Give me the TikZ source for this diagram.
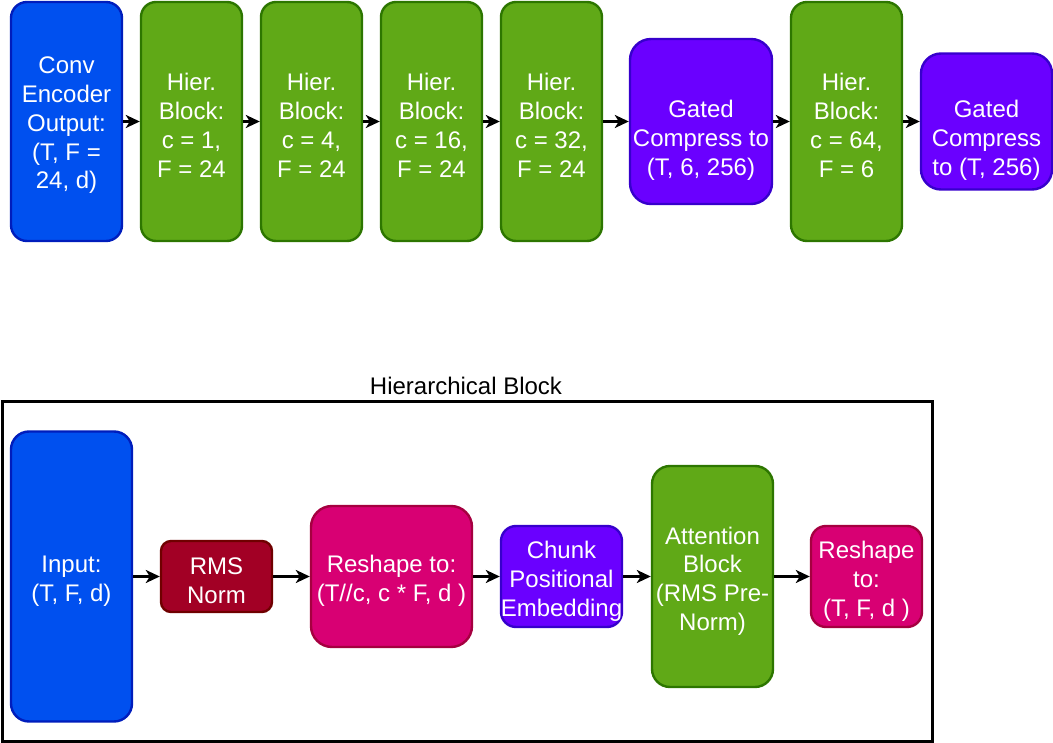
\documentclass[tikz,border=0pt]{standalone}
\usepackage{fontspec}
\setmainfont{Liberation Sans}
\usetikzlibrary{arrows.meta}
\definecolor{bluef}{HTML}{0050EF}\definecolor{blued}{HTML}{001DBC}
\definecolor{greenf}{HTML}{60A917}\definecolor{greend}{HTML}{2D7600}
\definecolor{purpf}{HTML}{6A00FF}\definecolor{purpd}{HTML}{3700CC}
\definecolor{redf}{HTML}{A20025}\definecolor{redd}{HTML}{6F0000}
\definecolor{magf}{HTML}{D80073}\definecolor{magd}{HTML}{A50040}
\begin{document}
\begin{tikzpicture}[x=1pt,y=-1pt,
  blk/.style={draw, inner sep=0pt, line width=2.4pt},
  bluebox/.style={blk, fill=bluef, draw=blued},
  greenbox/.style={blk, fill=greenf, draw=greend},
  purpbox/.style={blk, fill=purpf, draw=purpd},
  redbox/.style={blk, fill=redf, draw=redd},
  magbox/.style={blk, fill=magf, draw=magd},
  txt/.style={text=white, align=center, inner sep=0pt, font=\fontsize{24}{28.8}\selectfont},
  arr/.style={line width=2.8pt, -{Stealth[length=14pt,width=13pt,inset=4pt]}},
]
\useasboundingbox (0,0) rectangle (1053,743);
% top row
\node[bluebox, minimum width=111pt, minimum height=239pt, rounded corners=16pt] (conv) at (66.5,121.5) {};
\node[txt] at ([yshift=-4pt]conv.center) {Conv\\Encoder\\Output:\\(T, F =\\24, d)};
\node[greenbox, minimum width=101pt, minimum height=239pt, rounded corners=15pt] (h1) at (191.5,121.5) {};
\node[txt] at ([yshift=-4pt]h1.center) {Hier.\\Block:\\c = 1,\\F = 24};
\node[greenbox, minimum width=101pt, minimum height=239pt, rounded corners=15pt] (h2) at (311.5,121.5) {};
\node[txt] at ([yshift=-4pt]h2.center) {Hier.\\Block:\\c = 4,\\F = 24};
\node[greenbox, minimum width=101pt, minimum height=239pt, rounded corners=15pt] (h3) at (431.5,121.5) {};
\node[txt] at ([yshift=-4pt]h3.center) {Hier.\\Block:\\c = 16,\\F = 24};
\node[greenbox, minimum width=101pt, minimum height=239pt, rounded corners=15pt] (h4) at (551.5,121.5) {};
\node[txt] at ([yshift=-4pt]h4.center) {Hier.\\Block:\\c = 32,\\F = 24};
\node[purpbox, minimum width=142pt, minimum height=165pt, rounded corners=21pt] (g1) at (701,121.5) {};
\node[txt] at ([yshift=-19pt]g1.center) {Gated\\Compress to\\(T, 6, 256)};
\node[greenbox, minimum width=111pt, minimum height=239pt, rounded corners=16pt] (h5) at (846.5,121.5) {};
\node[txt] at ([yshift=-4pt]h5.center) {Hier.\\Block:\\c = 64,\\F = 6};
\node[purpbox, minimum width=131pt, minimum height=136pt, rounded corners=20pt] (g2) at (986.5,121.5) {};
\node[txt] at ([yshift=-19pt]g2.center) {Gated\\Compress\\to (T, 256)};
\draw[arr] (conv.east) -- (h1.west);
\draw[arr] (h1.east) -- (h2.west);
\draw[arr] (h2.east) -- (h3.west);
\draw[arr] (h3.east) -- (h4.west);
\draw[arr] (h4.east) -- (g1.west);
\draw[arr] (g1.east) -- (h5.west);
\draw[arr] (h5.east) -- (g2.west);
% bottom frame
\node[draw, line width=3pt, minimum width=930pt, minimum height=339pt, inner sep=0pt] (frame) at (467,571.5) {};
\node[font=\fontsize{24}{28.8}\selectfont, inner sep=0pt] (flabel) at (466,385.5) {Hierarchical Block};
\node[bluebox, minimum width=121pt, minimum height=290pt, rounded corners=18pt] (inp) at (71.5,576.5) {};
\node[txt] at ([yshift=-4.5pt]inp.center) {Input:\\(T, F, d)};
\node[redbox, minimum width=111pt, minimum height=71pt, rounded corners=10pt] (rms) at (216.5,576.5) {};
\node[txt] at ([yshift=-4.5pt]rms.center) {RMS\\Norm};
\node[magbox, minimum width=161pt, minimum height=141pt, rounded corners=21pt] (rs1) at (391.5,576.5) {};
\node[txt] at ([yshift=-4.5pt]rs1.center) {Reshape to:\\(T//c, c * F, d )};
\node[purpbox, minimum width=121pt, minimum height=101pt, rounded corners=15pt] (chunk) at (561.5,576.5) {};
\node[txt] at ([yshift=-4.5pt]chunk.center) {Chunk\\Positional\\Embedding};
\node[greenbox, minimum width=121pt, minimum height=221pt, rounded corners=18pt] (att) at (712.5,576.5) {};
\node[txt] at ([yshift=-4.5pt]att.center) {Attention\\Block\\(RMS Pre-\\Norm)};
\node[magbox, minimum width=111pt, minimum height=101pt, rounded corners=15pt] (rs2) at (866.5,576.5) {};
\node[txt] at ([yshift=-4.5pt]rs2.center) {Reshape\\to:\\(T, F, d )};
\draw[arr] (inp.east) -- (rms.west);
\draw[arr] (rms.east) -- (rs1.west);
\draw[arr] (rs1.east) -- (chunk.west);
\draw[arr] (chunk.east) -- (att.west);
\draw[arr] (att.east) -- (rs2.west);
\end{tikzpicture}
\end{document}
